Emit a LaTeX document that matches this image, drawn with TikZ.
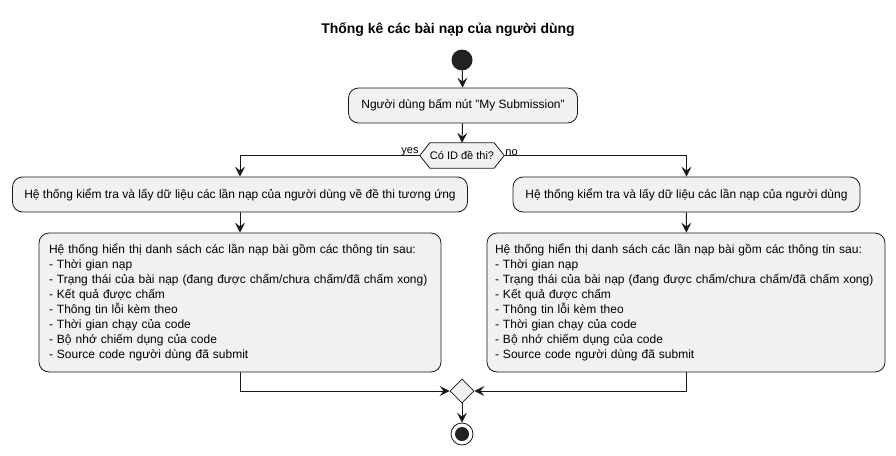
\documentclass[tikz,border=0pt]{standalone}
\usepackage{fontspec}
\setmainfont{Liberation Sans}
\usetikzlibrary{arrows.meta,shapes.geometric}
\definecolor{lineC}{HTML}{181818}
\definecolor{boxC}{HTML}{F1F1F1}
\definecolor{startC}{HTML}{222222}
\tikzset{
  act/.style={draw=lineC, fill=boxC, rounded corners=10pt, line width=0.8pt,
    font=\fontsize{12}{15}\selectfont, inner xsep=10pt, inner ysep=0pt, align=left},
  flow/.style={draw=lineC, line width=1pt, -{Stealth[length=10pt,width=10pt,inset=4pt]}},
  lbl/.style={font=\fontsize{11}{13}\selectfont, inner sep=1pt},
}
\begin{document}
\begin{tikzpicture}[x=1pt,y=-1pt]
\path[use as bounding box] (0,0) rectangle (896,455);
\node[font=\bfseries\fontsize{14}{16}\selectfont] (title) at (448,30) {Thống kê các bài nạp của người dùng};
\node[circle, fill=startC, minimum size=21pt, inner sep=0pt] (start) at (462,60) {};
\node[act, minimum width=229pt, minimum height=35pt] (b1) at (463,105.5) {Người dùng bấm nút "My Submission"};
\node[minimum width=84pt, minimum height=25pt, inner sep=0pt] (dec) at (462,155.5) {};
\draw[lineC, fill=boxC, line width=0.8pt] (dec.west) -- ([xshift=10pt]dec.north west) -- ([xshift=-10pt]dec.north east) -- (dec.east) -- ([xshift=-10pt]dec.south east) -- ([xshift=10pt]dec.south west) -- cycle;
\node[inner sep=0pt, font=\fontsize{11}{13}\selectfont] (dectext) at (dec) {Có ID đề thi?};
\node[lbl, anchor=south east] (yes) at ([yshift=-1pt]dec.west) {yes};
\node[lbl, anchor=south west] (no) at ([yshift=-1pt]dec.east) {no};
\node[act, minimum width=455pt, minimum height=35pt] (b2) at (240,194.5) {Hệ thống kiểm tra và lấy dữ liệu các lần nạp của người dùng về đề thi tương ứng};
\node[act, minimum width=347pt, minimum height=35pt] (b3) at (686.5,194.5) {Hệ thống kiểm tra và lấy dữ liệu các lần nạp của người dùng};
\node[act, text width=382pt, minimum height=139pt] (b4) at (240,302.5) {Hệ thống hiển thị danh sách các lần nạp bài gồm các thông tin sau:\\
- Thời gian nạp\\
- Trạng thái của bài nạp (đang được chấm/chưa chấm/đã chấm xong)\\
- Kết quả được chấm\\
- Thông tin lỗi kèm theo\\
- Thời gian chạy của code\\
- Bộ nhớ chiếm dụng của code\\
- Source code người dùng đã submit};
\node[act, text width=382pt, inner xsep=8pt, minimum height=139pt] (b5) at (686,302.5) {Hệ thống hiển thị danh sách các lần nạp bài gồm các thông tin sau:\\
- Thời gian nạp\\
- Trạng thái của bài nạp (đang được chấm/chưa chấm/đã chấm xong)\\
- Kết quả được chấm\\
- Thông tin lỗi kèm theo\\
- Thời gian chạy của code\\
- Bộ nhớ chiếm dụng của code\\
- Source code người dùng đã submit};
\node[diamond, draw=lineC, fill=boxC, line width=0.8pt, minimum size=24pt, inner sep=0pt] (m) at (462,391) {};
\node[circle, draw=lineC, line width=0.8pt, fill=white, minimum size=22pt, inner sep=0pt] (endn) at (462,434) {};
\node[circle, fill=startC, minimum size=14pt, inner sep=0pt] (endin) at (endn) {};
\draw[flow] (start) -- (b1);
\draw[flow] (b1) -- (dec.north);
\draw[flow] (dec.west) -| (b2.north);
\draw[flow] (dec.east) -| (b3.north);
\draw[flow] (b2) -- (b4);
\draw[flow] (b3) -- (b5);
\draw[flow] (b4.south) |- (m.west);
\draw[flow] (b5.south) |- (m.east);
\draw[flow] (m) -- (endn);
\end{tikzpicture}
\end{document}
